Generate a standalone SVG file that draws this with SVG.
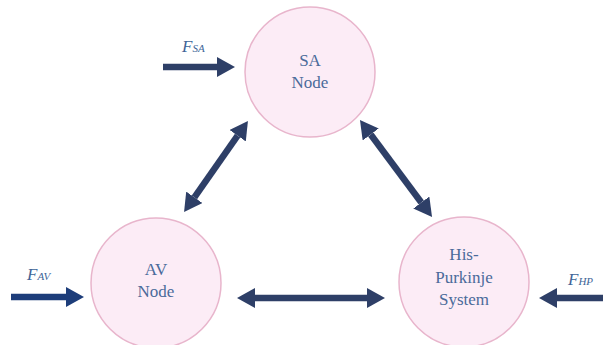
<svg xmlns="http://www.w3.org/2000/svg" width="603" height="345" viewBox="0 0 603 345">
  <style>
    .node { fill: #fcecf6; stroke: #e8b5cc; stroke-width: 1.5; }
    .label { font-family: "Liberation Serif", "Times New Roman", serif; font-size: 17px; fill: #4a6a9a; text-anchor: middle; }
    .force { font-family: "Liberation Serif", "Times New Roman", serif; font-style: italic; font-size: 17px; fill: #3e6597; }
    .sub { font-size: 11px; }
    .link { stroke: #2e3f67; stroke-width: 6.5; fill: none; marker-end: url(#head); }
    .both { marker-start: url(#head); }
    .input { stroke: #1d3d7a; marker-end: url(#headBlue); }
  </style>
  <defs>
    <marker id="head" viewBox="0 0 18 20" refX="0" refY="10" markerWidth="18" markerHeight="20" markerUnits="userSpaceOnUse" orient="auto-start-reverse">
      <path d="M0,0 L18,10 L0,20 Z" fill="#2e3f67"/>
    </marker>
    <marker id="headBlue" viewBox="0 0 18 20" refX="0" refY="10" markerWidth="18" markerHeight="20" markerUnits="userSpaceOnUse" orient="auto-start-reverse">
      <path d="M0,0 L18,10 L0,20 Z" fill="#1d3d7a"/>
    </marker>
  </defs>

  <g id="connectors">
    <line class="link" x1="163" y1="67" x2="217" y2="67"/>
    <line class="link input" x1="11" y1="297" x2="66" y2="297"/>
    <line class="link" x1="603" y1="298" x2="557" y2="298"/>
    <line class="link both" x1="255" y1="298" x2="367" y2="298"/>
    <line class="link both" x1="237.6" y1="135.7" x2="194.4" y2="197.3"/>
    <line class="link both" x1="370.7" y1="134.5" x2="421.3" y2="202.5"/>
  </g>

  <g id="sa-node">
    <circle class="node" cx="310" cy="72" r="65"/>
    <text class="label" x="310" y="66">SA</text>
    <text class="label" x="310" y="88">Node</text>
  </g>

  <g id="av-node">
    <circle class="node" cx="156" cy="283" r="65"/>
    <text class="label" x="156" y="275">AV</text>
    <text class="label" x="156" y="297">Node</text>
  </g>

  <g id="hp-system">
    <circle class="node" cx="464" cy="282" r="65"/>
    <text class="label" x="464" y="260">His-</text>
    <text class="label" x="464" y="283">Purkinje</text>
    <text class="label" x="464" y="305">System</text>
  </g>

  <g id="forces">
    <text class="force" x="182" y="52">F<tspan class="sub">SA</tspan></text>
    <text class="force" x="27" y="280">F<tspan class="sub">AV</tspan></text>
    <text class="force" x="568" y="285">F<tspan class="sub">HP</tspan></text>
  </g>
</svg>
